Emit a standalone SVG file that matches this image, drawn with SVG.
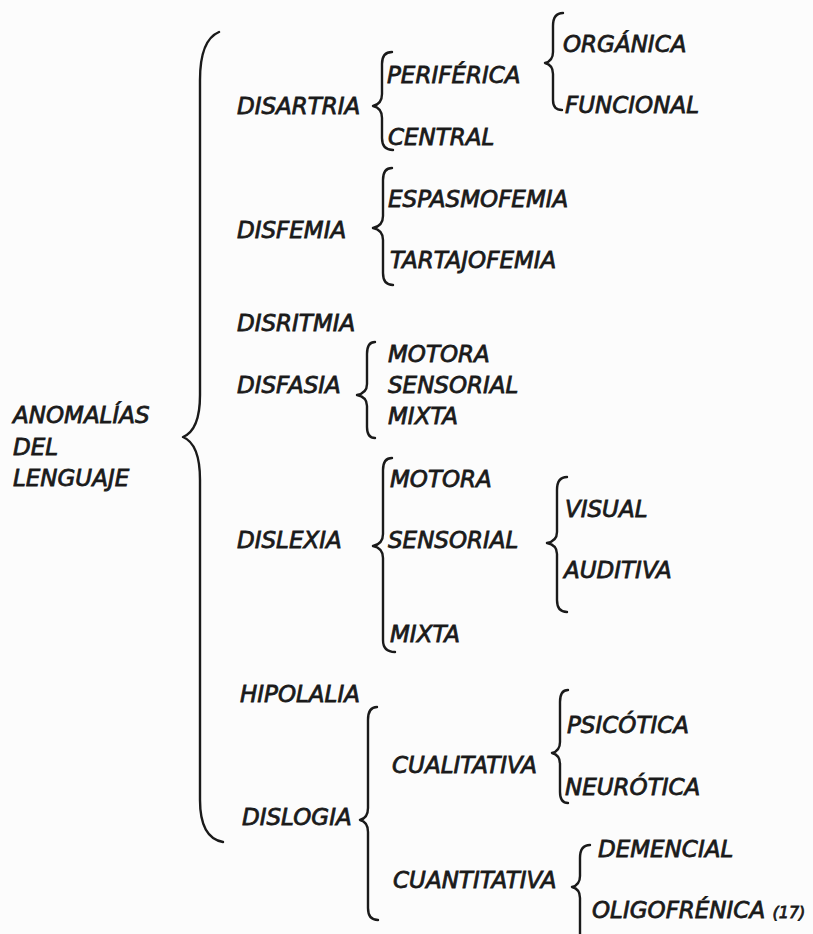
<svg xmlns="http://www.w3.org/2000/svg" width="813" height="934" viewBox="0 0 813 934">
<style>
text{font-family:"DejaVu Sans","Verdana",sans-serif;font-style:italic;font-size:23px;fill:#1a1a1a;stroke:#1a1a1a;stroke-width:0.8}
.sm{font-size:16px}
.br{fill:none;stroke:#1a1a1a;stroke-width:2.4;stroke-linecap:round;stroke-linejoin:round}
</style>
<rect width="813" height="934" fill="#fcfcfc"/>
<g id="connectors">
<path class="br" d="M219,32 Q200,40 200,80 L200,395 Q200,430 183,437 Q200,444 200,480 L200,800 Q200,838 223,842"/>
<path class="br" d="M392,52 Q382,52 382,64 L382,94 Q382,104 373,106 Q382,108 382,118 L382,138 Q382,150 393,150"/>
<path class="br" d="M563,13 Q553,13 553,26 L553,52 Q553,61 545,63 Q553,65 553,74 L553,100 Q553,110 562,110"/>
<path class="br" d="M392,168 Q383,168 383,180 L383,216 Q383,226 373,228 Q383,230 383,240 L383,273 Q383,285 393,285"/>
<path class="br" d="M375,342 Q367,342 367,354 L367,384 Q367,393 357,395 Q367,397 367,406 L367,427 Q367,438 375,438"/>
<path class="br" d="M392,458 Q383,458 383,470 L383,534 Q383,544 373,546 Q383,548 383,558 L383,640 Q383,652 395,652"/>
<path class="br" d="M567,477 Q557,477 557,490 L557,532 Q557,541 547,543 Q557,545 557,554 L557,600 Q557,612 567,612"/>
<path class="br" d="M377,707 Q368,707 368,720 L368,808 Q368,818 360,820 Q368,822 368,832 L368,908 Q368,920 378,920"/>
<path class="br" d="M568,690 Q560,690 560,702 L560,742 Q560,751 552,753 Q560,755 560,764 L560,792 Q560,803 568,803"/>
<path class="br" d="M590,845 Q580,845 580,858 L580,876 Q580,885 572,887 Q580,889 580,898 L580,934"/>
</g>
<g id="n-anomalias"><text x="13" y="423">ANOMALÍAS</text><text x="13" y="455">DEL</text><text x="13" y="486">LENGUAJE</text></g>
<g id="n-disartria"><text x="237" y="114">DISARTRIA</text></g>
<g id="n-periferica"><text x="387" y="83">PERIFÉRICA</text></g>
<g id="n-organica"><text x="563" y="52">ORGÁNICA</text></g>
<g id="n-funcional"><text x="565" y="113">FUNCIONAL</text></g>
<g id="n-central"><text x="388" y="145">CENTRAL</text></g>
<g id="n-disfemia"><text x="237" y="238">DISFEMIA</text></g>
<g id="n-espasmofemia"><text x="388" y="207">ESPASMOFEMIA</text></g>
<g id="n-tartajofemia"><text x="390" y="268">TARTAJOFEMIA</text></g>
<g id="n-disritmia"><text x="237" y="331">DISRITMIA</text></g>
<g id="n-disfasia"><text x="237" y="393">DISFASIA</text></g>
<g id="n-disfasia-motora"><text x="388" y="362">MOTORA</text></g>
<g id="n-disfasia-sensorial"><text x="388" y="393">SENSORIAL</text></g>
<g id="n-disfasia-mixta"><text x="388" y="424">MIXTA</text></g>
<g id="n-dislexia"><text x="237" y="548">DISLEXIA</text></g>
<g id="n-dislexia-motora"><text x="390" y="487">MOTORA</text></g>
<g id="n-dislexia-sensorial"><text x="388" y="548">SENSORIAL</text></g>
<g id="n-visual"><text x="565" y="517">VISUAL</text></g>
<g id="n-auditiva"><text x="564" y="578">AUDITIVA</text></g>
<g id="n-dislexia-mixta"><text x="390" y="642">MIXTA</text></g>
<g id="n-hipolalia"><text x="240" y="702">HIPOLALIA</text></g>
<g id="n-dislogia"><text x="242" y="825">DISLOGIA</text></g>
<g id="n-cualitativa"><text x="392" y="773">CUALITATIVA</text></g>
<g id="n-psicotica"><text x="567" y="733">PSICÓTICA</text></g>
<g id="n-neurotica"><text x="565" y="795">NEURÓTICA</text></g>
<g id="n-cuantitativa"><text x="393" y="888">CUANTITATIVA</text></g>
<g id="n-demencial"><text x="598" y="857">DEMENCIAL</text></g>
<g id="n-oligofrenica"><text x="592" y="918">OLIGOFRÉNICA <tspan class="sm">(17)</tspan></text></g>
</svg>
